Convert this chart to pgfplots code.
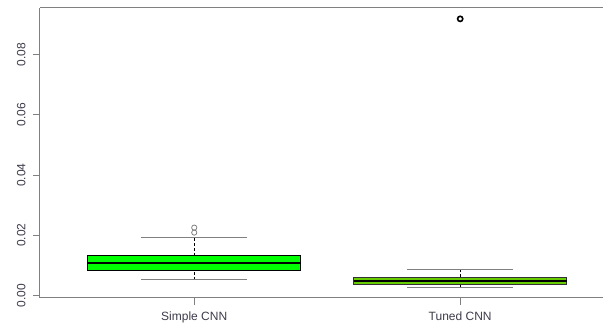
\documentclass[border=0pt]{standalone}
\usepackage{pgfplots}
\pgfplotsset{compat=1.18}
\usepgfplotslibrary{statistics}
\usepackage{fontspec}
\setmainfont{Liberation Sans}
\definecolor{labgray}{RGB}{60,60,75}
\definecolor{axgray}{RGB}{128,128,128}
\definecolor{tunedgreen}{RGB}{102,204,0}
\pgfplotsset{
  boxplot/draw/lower whisker/.code={%
      \draw[black,dash pattern=on 3pt off 2pt,line width=0.8pt,fill=none]
        (boxplot box cs:\pgfplotsboxplotvalue{lower whisker},0.5) --
        (boxplot box cs:\pgfplotsboxplotvalue{lower quartile},0.5);
      \draw[axgray,line width=1pt,fill=none]
        (boxplot whisker cs:\pgfplotsboxplotvalue{lower whisker},0) --
        (boxplot whisker cs:\pgfplotsboxplotvalue{lower whisker},1);
    },
  boxplot/draw/upper whisker/.code={%
      \draw[black,dash pattern=on 3pt off 2pt,line width=0.8pt,fill=none]
        (boxplot box cs:\pgfplotsboxplotvalue{upper quartile},0.5) --
        (boxplot box cs:\pgfplotsboxplotvalue{upper whisker},0.5);
      \draw[axgray,line width=1pt,fill=none]
        (boxplot whisker cs:\pgfplotsboxplotvalue{upper whisker},0) --
        (boxplot whisker cs:\pgfplotsboxplotvalue{upper whisker},1);
    },
  boxplot/every median/.style={draw=black,line width=2.6pt},
}
\begin{document}
\begin{tikzpicture}
\begin{axis}[
  at={(0,0)}, anchor=south west,
  scale only axis, width=563pt, height=290pt,
  xmin=0.42, xmax=2.537, ymin=-0.0008, ymax=0.0954,
  axis x line*=box, axis y line*=left,
  axis line style={axgray,line width=1pt},
  tick style={axgray,line width=1pt},
  tick align=outside, major tick length=7pt,
  xtick pos=bottom, ytick pos=left,
  xtick={1,2}, xticklabels={Simple CNN,Tuned CNN},
  ytick={0,0.02,0.04,0.06,0.08},
  yticklabel={\pgfmathprintnumber[fixed,fixed zerofill,precision=2]{\tick}},
  /pgf/number format/assume math mode=true,
  scaled y ticks=false,
  ticklabel style={font=\fontsize{12}{14}\selectfont, text=labgray},
  xticklabel style={yshift=-3pt},
  yticklabel style={rotate=90, anchor=south, yshift=4pt},
  boxplot/draw direction=y,
  boxplot/box extend=0.8,
  boxplot/whisker extend=0.4,
  clip=false,
]
\addplot[
  boxplot prepared={draw position=1,
    lower whisker=0.0053, lower quartile=0.00829, median=0.01085,
    upper quartile=0.01327, upper whisker=0.01934},
  boxplot/every box/.style={draw=black,fill=green,line width=0.8pt},
  mark=o, mark size=2.6pt, mark options={draw=axgray,line width=0.8pt},
] coordinates {(0,0.02255) (0,0.0209)};
\addplot[
  boxplot prepared={draw position=2,
    lower whisker=0.00275, lower quartile=0.00355, median=0.00488,
    upper quartile=0.00607, upper whisker=0.00862},
  boxplot/every box/.style={draw=black!80,fill=tunedgreen,line width=0.8pt},
  mark=o, mark size=2.6pt, mark options={draw=black,line width=1.6pt},
] coordinates {(0,0.0918)};
\end{axis}
\pgfresetboundingbox
\path[use as bounding box] (-40pt,-33pt) rectangle (563pt,298pt);
\end{tikzpicture}
\end{document}
